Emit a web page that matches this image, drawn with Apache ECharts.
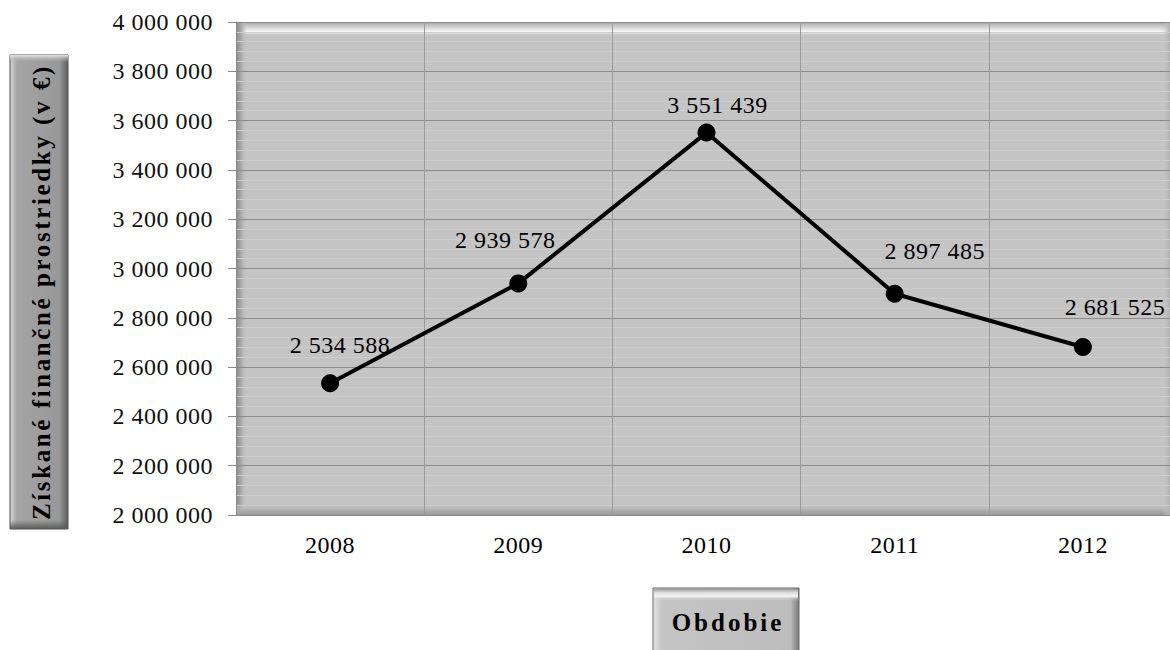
<!DOCTYPE html>
<html>
<head>
<meta charset="utf-8">
<script src="https://cdn.jsdelivr.net/npm/echarts@6/dist/echarts.min.js"></script>
<style>
html,body{margin:0;padding:0;background:#fff;}
#c{width:1170px;height:650px;}
#c text[style*="tagN"]{letter-spacing:0.5px;}
#c text[style*="tagY"]{letter-spacing:2.6px;}
#c text[style*="tagX"]{letter-spacing:3px;}
</style>
</head>
<body>
<div id="c"></div>
<script>
var categories = ['2008', '2009', '2010', '2011', '2012'];
var values = [2534588, 2939578, 3551439, 2897485, 2681525];
var yMin = 2000000, yMax = 4000000, yStep = 200000;
var yTitle = 'Získané finančné prostriedky (v €)';
var xTitle = 'Obdobie';
var labelOffsets = [[10, -38], [-13, -43], [11, -28], [40, -43], [32, -40]];

var FN = "'Liberation Serif', tagN";
var FY = "'Liberation Serif', tagY";
var FX = "'Liberation Serif', tagX";

function fmt(v) {
  return String(v).replace(/\B(?=(\d{3})+(?!\d))/g, ' ');
}

var G = {left: 236, top: 22, right: 1177, bottom: 515};
var GW = G.right - G.left, GH = G.bottom - G.top;

function lg(x2, y2, stops) {
  return {type: 'linear', x: 0, y: 0, x2: x2, y2: y2,
    colorStops: stops.map(function (s) { return {offset: s[0], color: s[1]}; })};
}

var chart = echarts.init(document.getElementById('c'), null, {renderer: 'svg'});
chart.setOption({
  animation: false,
  backgroundColor: '#ffffff',
  grid: {left: G.left, top: G.top, width: GW, height: GH, containLabel: false, outerBoundsMode: 'none'},
  xAxis: {
    type: 'category',
    data: categories,
    boundaryGap: true,
    axisLine: {show: true, lineStyle: {color: '#8a8a8a', width: 1}},
    axisTick: {show: false},
    axisLabel: {fontFamily: FN, fontSize: 24, color: '#000', margin: 18},
    splitLine: {show: true, lineStyle: {color: '#9a9a9a', width: 1}}
  },
  yAxis: {
    type: 'value',
    min: yMin, max: yMax, interval: yStep,
    axisLine: {show: true, lineStyle: {color: '#8a8a8a', width: 1}},
    axisTick: {show: true, length: 8, lineStyle: {color: '#8a8a8a'}},
    axisLabel: {fontFamily: FN, fontSize: 24, color: '#111', margin: 23, formatter: fmt},
    splitLine: {show: true, lineStyle: {color: '#8c8c8c', width: 1}},
    minorTick: {show: false, splitNumber: 5},
    minorSplitLine: {show: true, lineStyle: {color: '#cccccc', width: 1}}
  },
  graphic: [
    // plot area background and bevel
    {type: 'rect', z: -10, silent: true, shape: {x: G.left, y: G.top, width: GW, height: GH},
      style: {fill: '#c4c4c4'}},
    {type: 'rect', z: -9, silent: true, shape: {x: G.left, y: G.top, width: GW, height: 13},
      style: {fill: lg(0, 1, [[0, '#9c9c9c'], [0.2, '#bdbdbd'], [0.55, '#e2e2e2'], [0.75, '#f7f7f7'], [1, '#c4c4c4']])}},
    {type: 'rect', z: -9, silent: true, shape: {x: G.left, y: G.top, width: 11, height: GH},
      style: {fill: lg(1, 0, [[0, '#8a8a8a'], [0.5, '#adadad'], [1, 'rgba(196,196,196,0)']])}},
    {type: 'rect', z: -9, silent: true, shape: {x: G.left, y: G.bottom - 12, width: GW, height: 12},
      style: {fill: lg(0, 1, [[0, 'rgba(196,196,196,0)'], [0.6, '#b0b0b0'], [1, '#999999']])}},
    {type: 'rect', z: -9, silent: true, shape: {x: 1162, y: G.top, width: 8, height: GH},
      style: {fill: lg(1, 0, [[0, 'rgba(196,196,196,0)'], [1, '#b2b2b2']])}},
    // y title box
    {type: 'rect', z: 5, silent: true, shape: {x: 10, y: 55, width: 58, height: 474},
      style: {fill: lg(1, 0, [[0, '#d8d8d8'], [0.12, '#a4a4a4'], [0.85, '#989898'], [1, '#5e5e5e']]), stroke: '#505050', lineWidth: 1}},
    {type: 'rect', z: 5, silent: true, shape: {x: 10, y: 55, width: 58, height: 8},
      style: {fill: lg(0, 1, [[0, '#e6e6e6'], [1, 'rgba(160,160,160,0)']])}},
    {type: 'rect', z: 5, silent: true, shape: {x: 10, y: 520, width: 58, height: 9},
      style: {fill: lg(0, 1, [[0, 'rgba(90,90,90,0)'], [1, '#5a5a5a']])}},
    {type: 'text', z: 6, silent: true, x: 41, y: 292, rotation: Math.PI / 2,
      style: {text: yTitle, fontFamily: FY, fontSize: 25, fontWeight: 'bold', fill: '#000',
        textAlign: 'center', textVerticalAlign: 'middle'}},
    // x title box
    {type: 'rect', z: 5, silent: true, shape: {x: 653, y: 588, width: 146, height: 64},
      style: {fill: lg(1, 0, [[0, '#e4e4e4'], [0.06, '#c4c4c4'], [0.94, '#bdbdbd'], [1, '#7a7a7a']]), stroke: '#6a6a6a', lineWidth: 1}},
    {type: 'rect', z: 5, silent: true, shape: {x: 654, y: 589, width: 144, height: 12},
      style: {fill: lg(0, 1, [[0, '#9a9a9a'], [0.3, '#dcdcdc'], [0.6, '#f4f4f4'], [1, 'rgba(196,196,196,0)']])}},
    {type: 'text', z: 6, silent: true, x: 728, y: 622,
      style: {text: xTitle, fontFamily: FX, fontSize: 25, fontWeight: 'bold', fill: '#000',
        textAlign: 'center', textVerticalAlign: 'middle'}}
  ],
  series: [{
    type: 'line',
    data: values.map(function (v, i) {
      return {value: v, label: {offset: labelOffsets[i]}};
    }),
    symbol: 'circle',
    symbolSize: 18,
    lineStyle: {color: '#000', width: 4},
    itemStyle: {color: '#000'},
    label: {
      show: true, position: 'inside', align: 'center', verticalAlign: 'middle',
      fontFamily: FN, fontSize: 24, color: '#000',
      formatter: function (p) { return fmt(p.value); }
    }
  }]
});
</script>
</body>
</html>
